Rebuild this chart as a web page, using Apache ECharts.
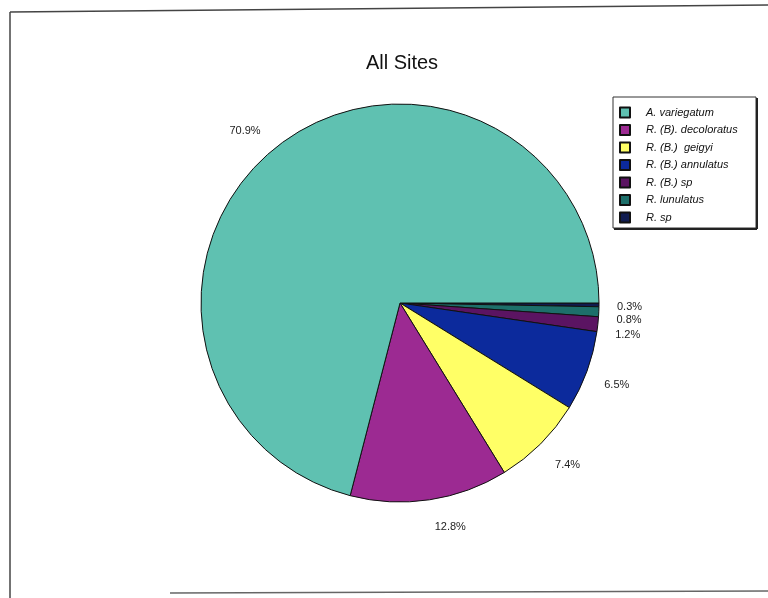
<!DOCTYPE html>
<html><head><meta charset="utf-8">
<script src="https://cdn.jsdelivr.net/npm/echarts@6/dist/echarts.min.js"></script>
<style>html,body{margin:0;padding:0;background:#fff}#c{width:768px;height:598px}</style>
</head><body><div id="c"></div>
<script>
// Data (pie order clockwise from 3 o'clock)
const names = ['R. sp', 'R. lunulatus', 'R. (B.) sp', 'R. (B.) annulatus', 'R. (B.)  geigyi', 'R. (B). decoloratus', 'A. variegatum'];
const values = [0.3, 0.8, 1.2, 6.5, 7.4, 12.8, 70.9];
const legendOrder = ['A. variegatum', 'R. (B). decoloratus', 'R. (B.)  geigyi', 'R. (B.) annulatus', 'R. (B.) sp', 'R. lunulatus', 'R. sp'];

// Styles (kept apart from data)
const colors = ['#101c50', '#1d6f6a', '#5b1462', '#0c2a9c', '#ffff66', '#9c2a92', '#5fc1b1'];
const labelShiftX = [0, 0, 0, 0, 0, -6, 0];
const labelShiftY = [2, 2, 4, 9, 11, 13, -4];

const chart = echarts.init(document.getElementById('c'));
chart.setOption({
  backgroundColor: '#fff',
  animation: false,
  title: {
    text: 'All Sites', left: 397, top: 48, textAlign: 'center',
    textStyle: {fontFamily: 'Liberation Sans, Arial', fontSize: 20, fontWeight: 'normal', color: '#111'}
  },
  legend: {
    orient: 'vertical', left: 619, top: 106.5, data: legendOrder,
    itemWidth: 10, itemHeight: 10, itemGap: 5.5, icon: 'rect',
    padding: [0, 0, 0, 0],
    textStyle: {fontFamily: 'Liberation Sans, Arial', fontSize: 11, fontStyle: 'italic', color: '#111', padding: [0, 0, 0, 11]}
  },
  graphic: [
    {type: 'line', shape: {x1: 10, y1: 12, x2: 768, y2: 5}, style: {stroke: '#444', lineWidth: 1.5}},
    {type: 'line', shape: {x1: 10, y1: 12, x2: 10, y2: 598}, style: {stroke: '#444', lineWidth: 1.5}},
    {type: 'line', shape: {x1: 170, y1: 593, x2: 768, y2: 591}, style: {stroke: '#666', lineWidth: 1.5}},
    {type: 'rect', shape: {x: 613, y: 97, width: 143, height: 131}, style: {fill: 'none', stroke: '#333', lineWidth: 1}},
    {type: 'line', shape: {x1: 614, y1: 229, x2: 757, y2: 229}, style: {stroke: '#222', lineWidth: 2}},
    {type: 'line', shape: {x1: 757, y1: 98, x2: 757, y2: 229}, style: {stroke: '#222', lineWidth: 2}}
  ],
  series: [{
    type: 'pie',
    center: [400, 303],
    radius: 199,
    startAngle: 0,
    clockwise: true,
    avoidLabelOverlap: true,
    data: names.map((n, i) => ({name: n, value: values[i], itemStyle: {color: colors[i]}})),
    itemStyle: {borderColor: '#111', borderWidth: 1},
    label: {
      show: true, position: 'outside',
      formatter: p => p.value.toFixed(1) + '%',
      fontFamily: 'Liberation Sans, Arial', fontSize: 11, color: '#222'
    },
    labelLine: {show: false, length: 14, length2: 4},
    labelLayout: p => ({dx: labelShiftX[p.dataIndex], dy: labelShiftY[p.dataIndex]}),
    emphasis: {disabled: true}
  }]
});
</script></body></html>
